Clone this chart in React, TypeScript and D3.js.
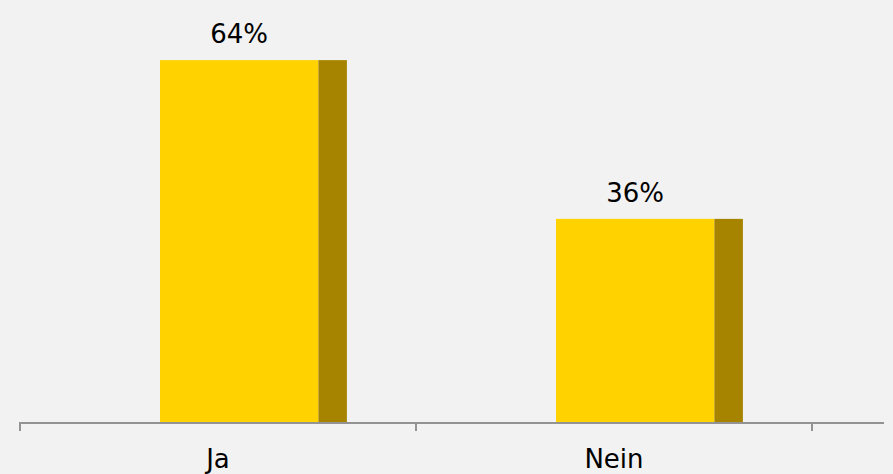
import React from "react";
import * as d3 from "d3";

const categories = ["Ja", "Nein"];
const values = [64, 36];
const valueLabels = ["64%", "36%"];

const W = 893;
const H = 474;

export default function App() {
  const baseY = 423;
  const x = d3.scaleBand<string>().domain(categories).range([20, 812]).paddingInner(0).paddingOuter(0);
  const y = d3.scaleLinear().domain([0, 70]).range([baseY, baseY - 70 * 5.67]);
  const bw = x.bandwidth();
  const frontW = bw * 0.4;
  const sideW = bw * 0.072;
  const font = "'DejaVu Sans', Verdana, sans-serif";
  return (
    <svg width={W} height={H} style={{ position: "fixed", left: 0, top: 0, display: "block" }}>
      <rect x={0} y={0} width={W} height={H} fill="#f2f2f2" />
      {categories.map((c, i) => {
        const cx = (x(c) as number) + bw / 2;
        const x0 = cx - bw * 0.1465;
        const top = y(values[i]);
        return (
          <g key={c}>
            <rect x={x0} y={top} width={frontW} height={baseY - top} fill="#FFD200" />
            <rect x={x0 + frontW} y={top} width={sideW} height={baseY - top} fill="#A68400" />
            <text x={x0 + frontW / 2} y={top - 17} textAnchor="middle" fontFamily={font} fontSize={26} fill="#000">
              {valueLabels[i]}
            </text>
            <text x={cx} y={468} textAnchor="middle" fontFamily={font} fontSize={26} fill="#000">
              {c}
            </text>
          </g>
        );
      })}
      <line x1={19} x2={884} y1={baseY} y2={baseY} stroke="#939393" strokeWidth={2} />
      {[20, ...categories.map((c) => (x(c) as number) + bw)].map((t, i) => (
        <line key={i} x1={t} x2={t} y1={baseY} y2={431} stroke="#939393" strokeWidth={2} />
      ))}
    </svg>
  );
}
